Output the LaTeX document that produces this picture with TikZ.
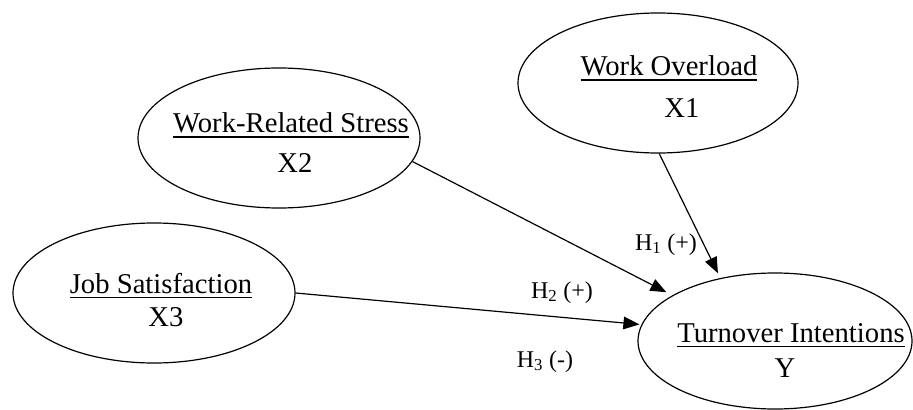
\documentclass[tikz,border=0pt]{standalone}
\usepackage{fontspec}
\setmainfont{Liberation Serif}
\usetikzlibrary{shapes.geometric, arrows.meta}

% underlined construct name with a fixed gap below the baseline
\newcommand{\varul}[1]{\vtop{\hbox{#1}\kern3pt\hrule height 0.8pt}}

\tikzset{
    factor/.style={draw, ellipse, line width=0.9pt, inner sep=0pt},
    varname/.style={anchor=base, inner sep=0pt, font=\fontsize{21.5}{25}\selectfont},
    hyp/.style={anchor=base, inner sep=0pt, font=\fontsize{18}{21}\selectfont},
    effect/.style={-{Triangle[length=12pt,width=9.5pt]}, line width=0.9pt}
}

\begin{document}
\begin{tikzpicture}[x=0.75pt, y=-0.75pt]
    \useasboundingbox (0,0) rectangle (913,410);

    % Constructs
    \node[factor, minimum width=210pt, minimum height=105pt] (overload) at (658,83) {};
    \node[factor, minimum width=211.5pt, minimum height=105pt] (stress) at (279,138) {};
    \node[factor, minimum width=211.5pt, minimum height=105pt] (satisf) at (154,293) {};
    \node[factor, minimum width=205.5pt, minimum height=102pt] (turnover) at (775,341) {};

    % Construct names and codes
    \node[varname] (overload-name) at (669,75) {\varul{Work Overload}};
    \node[varname] (overload-code) at (682,117) {X1};
    \node[varname] (stress-name) at (291,132) {\varul{Work-Related Stress}};
    \node[varname] (stress-code) at (295,172) {X2};
    \node[varname] (satisf-name) at (161,293) {\varul{Job Satisfaction}};
    \node[varname] (satisf-code) at (166,326) {X3};
    \node[varname] (turnover-name) at (791,342) {\varul{Turnover Intentions}};
    \node[varname] (turnover-code) at (785,377) {Y};

    % Hypothesised effects
    \draw[effect, shorten >=4pt] (overload.-89) -- (turnover.131);
    \draw[effect, shorten >=5pt] (stress.-10.8) -- (turnover.156);
    \draw[effect, shorten >=1.5pt] (satisf.east) -- (turnover.173.2);

    % Hypothesis labels
    \node[hyp] (h1) at (666,250) {H\textsubscript{1} (+)};
    \node[hyp] (h2) at (562,298) {H\textsubscript{2} (+)};
    \node[hyp] (h3) at (545,367) {H\textsubscript{3} (-)};
\end{tikzpicture}
\end{document}
